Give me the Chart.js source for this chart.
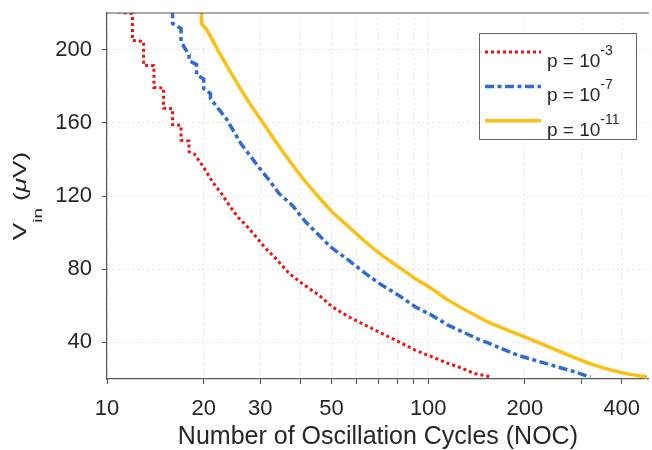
<!DOCTYPE html>
<html>
<head>
<meta charset="utf-8">
<title>Vin vs NOC</title>
<script src="https://cdn.jsdelivr.net/npm/chart.js@4.4.1/dist/chart.umd.min.js"></script>
<style>
    html, body { margin: 0; padding: 0; background: #fff; }
    #wrap { width: 652px; height: 450px; }
</style>
</head>
<body>
<div id="wrap"><canvas id="nocChart" width="652" height="450"></canvas></div>
<script>
// values (NOC on x, Vin in uV on y)
// p = 10^-3
const redNoc = [10.8, 12, 12, 13, 13, 14, 14, 15, 15, 16, 16, 17, 17, 18, 18, 18.7, 20.1, 21.3, 22.7, 24.0, 25.5, 27.1, 29.1, 31.2, 33.5, 36.9, 40.5, 45.7, 50.2, 56.5, 63.7, 71.7, 80.8, 91.0, 102.4, 115.3, 123.9, 139.5, 158];
const redVin = [220.6, 219.6, 205, 204.5, 191.5, 191.2, 179.3, 179, 168, 167.7, 159, 158.6, 150.5, 150, 144.3, 143, 135, 127.7, 121.4, 115, 108.6, 104, 97.7, 91.3, 85.9, 77.7, 72.2, 65.8, 59.5, 54, 49.4, 44.9, 40.4, 35.8, 32.2, 28.5, 26.7, 23, 21];
// p = 10^-7
const blueNoc = [16, 16, 17, 17, 18, 18, 19, 19, 20, 20, 21, 21, 23.5, 26.1, 29.1, 32.0, 34.3, 37.7, 41.5, 45.7, 49.6, 56.5, 63.7, 71.7, 80.8, 91.0, 102.4, 115.3, 143, 152, 189.9, 246, 284.5, 320];
const blueVin = [222, 214.2, 211.5, 204.4, 197, 194, 191.8, 186.3, 184, 178.7, 176, 173.2, 162.3, 148.7, 137.7, 128.6, 121.4, 115, 105.9, 98.6, 92.2, 84.9, 77.7, 71.3, 65.8, 59.5, 54.9, 49.4, 41.8, 40, 33, 27.2, 24, 21];
// p = 10^-11
const yellowNoc = [19.7, 19.7, 20.3, 21.2, 22.1, 23.5, 25.8, 28.0, 30.6, 33.5, 36.9, 40.5, 45.3, 50.2, 56.5, 63.7, 71.7, 80.8, 91.0, 102.4, 115.3, 142.8, 157, 220, 252.7, 320.4, 406.4, 480];
const yellowVin = [222, 214.2, 211.5, 206, 200, 191.8, 179.8, 169.8, 160, 149.8, 139.5, 130.1, 120, 111.4, 103.2, 95, 87.7, 81.3, 74.9, 69.5, 63.1, 54, 50.4, 40, 35.5, 28.3, 23.2, 21];

const xGridTicks = [10, 20, 30, 40, 50, 60, 70, 80, 90, 100, 200, 300, 400];
const xLabelTicks = [10, 20, 30, 50, 100, 200, 400];
const yTicks = [40, 80, 120, 160, 200];
const legendBase = 'p = 10';
const legendExp = ['-3', '-7', '-11'];

const FONT = '"Liberation Sans", Arial, Helvetica, sans-serif';
const TEXT = '#262626';
const AXIS = '#555';
const GRID = 'rgba(0,0,0,0.11)';

function toPoints(xs, ys) {
    return xs.map((x, i) => ({ x: x, y: ys[i] }));
}

// y title (with subscript), top box line and the legend
const decorations = {
    id: 'decorations',
    afterDraw(chart) {
        const ctx = chart.ctx;
        const a = chart.chartArea;
        ctx.save();

        // top edge of the axes box
        ctx.strokeStyle = AXIS;
        ctx.lineWidth = 1.2;
        ctx.beginPath();
        ctx.moveTo(a.left, a.top);
        ctx.lineTo(a.right, a.top);
        ctx.stroke();

        // y axis title: V_in (uV)
        const parts = [
            { t: 'V', f: '18px ' + FONT, dy: 0 },
            { t: 'in', f: '13px ' + FONT, dy: 16 },
            { t: ' (', f: '18px ' + FONT, dy: 0 },
            { t: '\u03bc', f: 'italic 18px ' + FONT, dy: 0 },
            { t: 'V)', f: '18px ' + FONT, dy: 0 }
        ];
        let total = 0;
        for (const p of parts) { ctx.font = p.f; p.w = ctx.measureText(p.t).width; total += p.w; }
        ctx.save();
        ctx.translate(25.5, (a.top + a.bottom) / 2);
        ctx.rotate(-Math.PI / 2);
        ctx.scale(1.45, 1);
        ctx.fillStyle = TEXT;
        ctx.textBaseline = 'alphabetic';
        let px = -total / 2;
        for (const p of parts) {
            ctx.font = p.f;
            ctx.fillText(p.t, px, p.dy);
            px += p.w;
        }
        ctx.restore();

        // legend
        const bx = 479, by = 33, bw = 157, bh = 106;
        ctx.fillStyle = '#fff';
        ctx.fillRect(bx, by, bw, bh);
        ctx.strokeStyle = '#666';
        ctx.lineWidth = 1;
        ctx.strokeRect(bx + 0.5, by + 0.5, bw, bh);
        chart.data.datasets.forEach((ds, i) => {
            const ly = 52 + i * 34.4;
            ctx.save();
            ctx.strokeStyle = ds.borderColor;
            ctx.lineWidth = ds.borderWidth;
            ctx.setLineDash(ds.borderDash || []);
            ctx.beginPath();
            ctx.moveTo(485, ly);
            ctx.lineTo(541, ly);
            ctx.stroke();
            ctx.restore();
            ctx.fillStyle = TEXT;
            ctx.font = '19px ' + FONT;
            ctx.fillText(legendBase, 547, ly + 15);
            const w = ctx.measureText(legendBase).width;
            ctx.font = '14px ' + FONT;
            ctx.fillText(legendExp[i], 547 + w, ly + 3);
        });
        ctx.restore();
    }
};

function noPad(s) {
    s.paddingTop = 0;
    s.paddingBottom = 0;
}

const ctx = document.getElementById('nocChart').getContext('2d');
const nocChart = new Chart(ctx, {
    type: 'line',
    data: {
        datasets: [
            {
                label: 'p = 10^-3',
                data: toPoints(redNoc, redVin),
                borderColor: '#f01010',
                borderWidth: 3,
                borderDash: [3, 3],
                pointRadius: 0,
                tension: 0,
                fill: false
            },
            {
                label: 'p = 10^-7',
                data: toPoints(blueNoc, blueVin),
                borderColor: '#2f6bd6',
                borderWidth: 3.5,
                borderDash: [9, 3.5, 4, 3.5],
                pointRadius: 0,
                tension: 0,
                fill: false
            },
            {
                label: 'p = 10^-11',
                data: toPoints(yellowNoc, yellowVin),
                borderColor: '#fdbf12',
                borderWidth: 3.5,
                pointRadius: 0,
                tension: 0.2,
                fill: false
            }
        ]
    },
    options: {
        responsive: false,
        animation: false,
        devicePixelRatio: 1,
        layout: { padding: { top: 13, right: 0, left: 0, bottom: 0 } },
        scales: {
            x: {
                type: 'logarithmic',
                min: 10,
                max: 486,
                afterBuildTicks: s => { s.ticks = xGridTicks.map(v => ({ value: v })); },
                afterFit: s => { s.height = 71; },
                ticks: {
                    autoSkip: false,
                    maxRotation: 0,
                    padding: 12,
                    color: TEXT,
                    font: { family: FONT, size: 22 },
                    callback: v => xLabelTicks.includes(v) ? String(v) : ''
                },
                grid: { color: GRID, tickLength: 5, tickColor: AXIS, tickWidth: 1 },
                border: { display: true, color: AXIS, width: 1.2, dash: [2, 3] },
                title: {
                    display: true,
                    text: 'Number of Oscillation Cycles (NOC)',
                    color: TEXT,
                    font: { family: FONT, size: 25, lineHeight: 1 },
                    padding: 0
                }
            },
            y: {
                min: 20,
                max: 220,
                afterBuildTicks: s => { s.ticks = yTicks.map(v => ({ value: v })); },
                afterFit: s => { s.width = 107; noPad(s); },
                ticks: {
                    padding: 10,
                    color: TEXT,
                    font: { family: FONT, size: 22 }
                },
                grid: { color: GRID, tickLength: 5, tickColor: AXIS, tickWidth: 1 },
                border: { display: true, color: AXIS, width: 1.2, dash: [2, 3] }
            }
        },
        plugins: {
            legend: { display: false },
            tooltip: { enabled: false }
        }
    },
    plugins: [decorations]
});
</script>
</body>
</html>
